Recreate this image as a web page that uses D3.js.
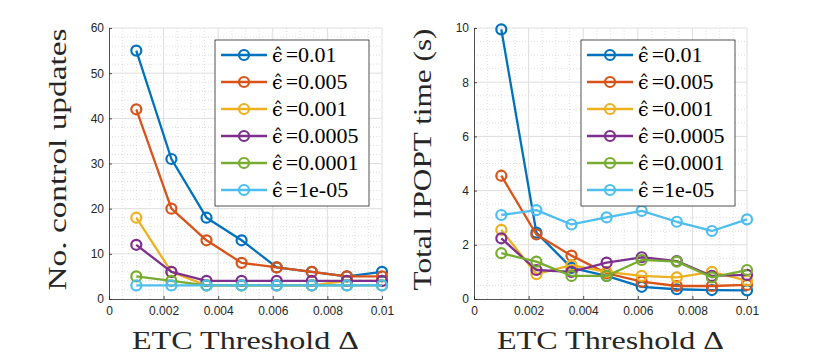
<!DOCTYPE html>
<html>
<head>
<meta charset="utf-8">
<script src="https://cdn.jsdelivr.net/npm/d3@7"></script>
<style>
  body { margin: 0; background: #fff; }
  svg { display: block; }
</style>
</head>
<body>
<svg id="chart" width="830" height="356"></svg>
<script>
// threshold values (x), linspace 0.001..0.01 with 8 points
const thresholds = [0.001, 0.0022857, 0.0035714, 0.0048571, 0.0061429, 0.0074286, 0.0087143, 0.01];
const epsNames = ["0.01", "0.005", "0.001", "0.0005", "0.0001", "1e-05"];
const colors = ["#0072BD", "#D95319", "#EDB120", "#7E2F8E", "#77AC30", "#4DBEEE"];

// No. control updates per eps
const updates001 = [55, 31, 18, 13, 7, 6, 5, 6];
const updates0005 = [42, 20, 13, 8, 7, 6, 5, 5];
const updates0001 = [18, 6, 3, 3, 3, 3, 4, 4];
const updates00005 = [12, 6, 4, 4, 4, 4, 4, 4];
const updates00001 = [5, 4, 3, 3, 3, 3, 3, 3];
const updates1e5 = [3, 3, 3, 3, 3, 3, 3, 3];

// Total IPOPT time (s) per eps
const time001 = [9.95, 2.45, 1.15, 0.85, 0.45, 0.36, 0.33, 0.32];
const time0005 = [4.55, 2.38, 1.6, 0.95, 0.64, 0.48, 0.48, 0.52];
const time0001 = [2.55, 0.92, 1.25, 1.0, 0.85, 0.8, 1.0, 0.68];
const time00005 = [2.24, 1.07, 1.0, 1.34, 1.54, 1.4, 0.85, 0.89];
const time00001 = [1.69, 1.38, 0.85, 0.85, 1.44, 1.38, 0.8, 1.07];
const time1e5 = [3.1, 3.28, 2.75, 3.01, 3.25, 2.85, 2.51, 2.94];

const xTicks = [0, 0.002, 0.004, 0.006, 0.008, 0.01];
const xTickLabels = ["0", "0.002", "0.004", "0.006", "0.008", "0.01"];

const svg = d3.select("#chart");
const axisColor = "#262626";
const serif = "'Liberation Serif', 'Times New Roman', serif";

function drawPanel(opts) {
  const { left, top, width, height, series, yMax, yTicks, yMinorStep, yLabel, legendX } = opts;

  const x = d3.scaleLinear().domain([0, 0.01]).range([left, left + width]);
  const y = d3.scaleLinear().domain([0, yMax]).range([top + height, top]);

  const g = svg.append("g");

  // minor grid (dotted)
  const xMinor = d3.range(0, 0.01 + 1e-9, 0.0005).filter((v) => !xTicks.some((t) => Math.abs(t - v) < 1e-9));
  const yMinor = d3.range(0, yMax + 1e-9, yMinorStep).filter((v) => !yTicks.some((t) => Math.abs(t - v) < 1e-9));

  g.append("g")
    .selectAll("line")
    .data(xMinor)
    .join("line")
    .attr("x1", (d) => x(d)).attr("x2", (d) => x(d))
    .attr("y1", top).attr("y2", top + height)
    .attr("stroke", "#c9c9c9").attr("stroke-width", 0.6)
    .attr("stroke-dasharray", "1,2");

  g.append("g")
    .selectAll("line")
    .data(yMinor)
    .join("line")
    .attr("x1", left).attr("x2", left + width)
    .attr("y1", (d) => y(d)).attr("y2", (d) => y(d))
    .attr("stroke", "#c9c9c9").attr("stroke-width", 0.6)
    .attr("stroke-dasharray", "1,2");

  // major grid
  g.append("g")
    .selectAll("line")
    .data(xTicks.slice(1))
    .join("line")
    .attr("x1", (d) => x(d)).attr("x2", (d) => x(d))
    .attr("y1", top).attr("y2", top + height)
    .attr("stroke", "#dedede").attr("stroke-width", 1);

  g.append("g")
    .selectAll("line")
    .data(yTicks.slice(1))
    .join("line")
    .attr("x1", left).attr("x2", left + width)
    .attr("y1", (d) => y(d)).attr("y2", (d) => y(d))
    .attr("stroke", "#dedede").attr("stroke-width", 1);

  // axes
  const xAxis = g.append("g")
    .attr("transform", `translate(0,${top + height})`)
    .call(d3.axisBottom(x).tickValues(xTicks).tickFormat((d, i) => xTickLabels[i]).tickSizeInner(-3).tickSizeOuter(0).tickPadding(7));
  const yAxis = g.append("g")
    .attr("transform", `translate(${left},0)`)
    .call(d3.axisLeft(y).tickValues(yTicks).tickSizeInner(-3).tickSizeOuter(0).tickPadding(5));

  [xAxis, yAxis].forEach((a) => {
    a.select(".domain").attr("stroke", axisColor).attr("stroke-width", 0.8);
    a.selectAll(".tick line").attr("stroke", axisColor).attr("stroke-width", 0.8);
    a.selectAll(".tick text")
      .attr("fill", axisColor)
      .attr("font-family", "'Liberation Sans', Arial, sans-serif")
      .attr("font-size", "12px");
  });

  // lines and markers
  const line = d3.line().x((d, i) => x(thresholds[i])).y((d) => y(d));
  series.forEach((vals, k) => {
    const s = g.append("g");
    s.append("path")
      .attr("d", line(vals))
      .attr("fill", "none")
      .attr("stroke", colors[k])
      .attr("stroke-width", 2.3)
      .attr("stroke-linejoin", "round");
    s.selectAll("circle")
      .data(vals)
      .join("circle")
      .attr("cx", (d, i) => x(thresholds[i]))
      .attr("cy", (d) => y(d))
      .attr("r", 5)
      .attr("fill", "none")
      .attr("stroke", colors[k])
      .attr("stroke-width", 2.2);
  });

  // axis labels
  g.append("text")
    .attr("x", left + width / 2)
    .attr("y", 349)
    .attr("text-anchor", "middle")
    .attr("font-family", serif)
    .attr("font-size", "26px")
    .attr("fill", axisColor)
    .attr("textLength", 227)
    .attr("lengthAdjust", "spacingAndGlyphs")
    .text("ETC Threshold Δ");

  g.append("text")
    .attr("transform", `translate(${left - 43},${top + height / 2 - 4}) rotate(-90)`)
    .attr("text-anchor", "middle")
    .attr("font-family", serif)
    .attr("font-size", "26px")
    .attr("fill", axisColor)
    .attr("textLength", 262)
    .attr("lengthAdjust", "spacingAndGlyphs")
    .text(yLabel);

  // legend
  const legTop = 40, legW = 154, legH = 166, rowH = 27;
  const leg = g.append("g").attr("transform", `translate(${legendX},${legTop})`);
  leg.append("rect")
    .attr("width", legW).attr("height", legH)
    .attr("fill", "#fff").attr("stroke", axisColor).attr("stroke-width", 0.8);
  epsNames.forEach((name, k) => {
    const ry = 15 + k * rowH;
    leg.append("line")
      .attr("x1", 6).attr("x2", 52).attr("y1", ry).attr("y2", ry)
      .attr("stroke", colors[k]).attr("stroke-width", 2.3);
    leg.append("circle")
      .attr("cx", 29).attr("cy", ry).attr("r", 5)
      .attr("fill", "none").attr("stroke", colors[k]).attr("stroke-width", 2.2);
    const t = leg.append("text")
      .attr("x", 57).attr("y", ry + 7)
      .attr("font-family", serif)
      .attr("font-size", "22px")
      .attr("fill", "#000");
    t.append("tspan")
      .attr("font-family", "'DejaVu Serif', serif")
      .attr("font-size", "19px")
      .text("\u03F5\u0302");
    t.append("tspan").attr("dx", 3).text("=" + name);
  });
}

drawPanel({
  left: 109, top: 28, width: 273, height: 271,
  series: [updates001, updates0005, updates0001, updates00005, updates00001, updates1e5],
  yMax: 60, yTicks: [0, 10, 20, 30, 40, 50, 60], yMinorStep: 2,
  yLabel: "No.  control updates",
  legendX: 215
});

drawPanel({
  left: 474, top: 28, width: 273, height: 271,
  series: [time001, time0005, time0001, time00005, time00001, time1e5],
  yMax: 10, yTicks: [0, 2, 4, 6, 8, 10], yMinorStep: 0.5,
  yLabel: "Total IPOPT time (s)",
  legendX: 581
});
</script>
</body>
</html>
